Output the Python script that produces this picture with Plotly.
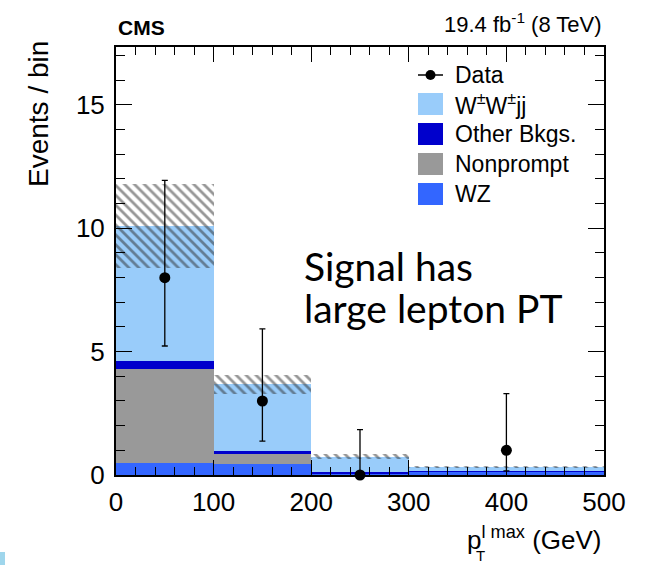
import numpy as np
import plotly.graph_objects as go

# Binning in leading-lepton pT (GeV)
bin_edges = [0, 100, 200, 300, 500]

# Stacked expectations per bin (events / bin)
wz = [0.47, 0.45, 0.08, 0.13]
nonprompt = [3.81, 0.42, 0.00, 0.00]
other_bkgs = [0.36, 0.10, 0.03, 0.03]
wwjj = [5.45, 2.70, 0.64, 0.17]
# Total systematic uncertainty on the stack (+/-)
stack_unc = [1.70, 0.40, 0.10, 0.05]

# Observed data with asymmetric Poisson errors
data = [8, 3, 0, 1]
data_err_lo = [2.77, 1.63, 0.00, 0.83]
data_err_hi = [3.94, 2.92, 1.84, 2.30]

x_ticks = [0, 100, 200, 300, 400, 500]
y_ticks = [0, 5, 10, 15]

COL_WW = "#99ccfa"
COL_OTHER = "#0000cc"
COL_NP = "#999999"
COL_WZ = "#3366ff"

edges = np.array(bin_edges, dtype=float)
centers = 0.5 * (edges[:-1] + edges[1:])
widths = edges[1:] - edges[:-1]

components = [
    ("WZ", wz, COL_WZ),
    ("Nonprompt", nonprompt, COL_NP),
    ("Other Bkgs.", other_bkgs, COL_OTHER),
    ("W\u00b1W\u00b1jj", wwjj, COL_WW),
]

fig = go.Figure()

base = np.zeros(len(centers))
for name, vals, col in components:
    vals = np.array(vals, dtype=float)
    fig.add_trace(go.Bar(
        x=centers, y=vals, base=base, width=widths, name=name,
        marker=dict(color=col, line=dict(width=0)), showlegend=False,
        hoverinfo="skip",
    ))
    base = base + vals

total = base
unc = np.array(stack_unc)
fig.add_trace(go.Bar(
    x=centers, y=2 * unc, base=total - unc, width=widths,
    marker=dict(
        color="rgba(0,0,0,0)", line=dict(width=0),
        pattern=dict(shape="\\", fgcolor="#2e2e2e", bgcolor="rgba(0,0,0,0)",
                     size=7, solidity=0.4, fillmode="overlay"),
    ),
    showlegend=False, hoverinfo="skip",
))

fig.add_trace(go.Scatter(
    x=centers[:len(data)], y=data, mode="markers", cliponaxis=False,
    marker=dict(color="black", size=11),
    error_y=dict(type="data", symmetric=False, array=data_err_hi,
                 arrayminus=data_err_lo, color="black", thickness=1.3, width=3),
    showlegend=False,
))

# Frame geometry in pixels
L, R, T, B = 116, 604, 47, 475
W, H = R - L, B - T


def px(xp):
    return (xp - L) / W


def py(yp):
    return (B - yp) / H


shapes = []
annotations = []

# Legend block
leg_x0, leg_x1, txt_x = 418, 443, 453
# Data entry
shapes.append(dict(type="line", xref="paper", yref="paper",
                   x0=px(leg_x0), x1=px(leg_x1), y0=py(75), y1=py(75),
                   line=dict(color="black", width=1.5)))
shapes.append(dict(type="circle", xref="paper", yref="paper",
                   x0=px(425.5), x1=px(435.5), y0=py(80), y1=py(70),
                   fillcolor="black", line=dict(color="black", width=0)))
annotations.append(dict(text="Data", x=px(txt_x), y=py(75), xref="paper", yref="paper",
                        xanchor="left", yanchor="middle", showarrow=False,
                        font=dict(size=23, color="black", family="Liberation Sans")))
legend_rows = [
    ("W<sup>\u00b1</sup>W<sup>\u00b1</sup>jj", COL_WW, 104),
    ("Other Bkgs.", COL_OTHER, 134),
    ("Nonprompt", COL_NP, 164),
    ("WZ", COL_WZ, 194),
]
for label, col, yc in legend_rows:
    shapes.append(dict(type="rect", xref="paper", yref="paper",
                       x0=px(leg_x0), x1=px(leg_x1), y0=py(yc + 11), y1=py(yc - 11),
                       fillcolor=col, line=dict(width=0)))
    annotations.append(dict(text=label, x=px(txt_x), y=py(yc), xref="paper", yref="paper",
                            xanchor="left", yanchor="middle", showarrow=False,
                            font=dict(size=23, color="black", family="Liberation Sans")))

# Header texts
annotations.append(dict(text="<b>CMS</b>", x=0, y=py(27), xref="paper", yref="paper",
                        xanchor="left", yanchor="middle", showarrow=False,
                        font=dict(size=21, color="black", family="Liberation Sans")))
annotations.append(dict(text="19.4 fb<sup>-1</sup> (8 TeV)", x=1, y=py(23), xref="paper",
                        yref="paper", xanchor="right", yanchor="middle", showarrow=False,
                        font=dict(size=22, color="black", family="Liberation Sans")))

# Axis titles
annotations.append(dict(text="Events / bin", x=px(38), y=py(39), xref="paper", yref="paper",
                        xanchor="center", yanchor="top", textangle=-90, showarrow=False,
                        font=dict(size=28, color="black", family="Liberation Sans")))
annotations.append(dict(text="p<sup>l max</sup> (GeV)", x=1, y=py(538), xref="paper",
                        yref="paper", xanchor="right", yanchor="middle", showarrow=False,
                        font=dict(size=26, color="black", family="Liberation Sans")))
annotations.append(dict(text="T", x=px(480), y=py(555), xref="paper", yref="paper",
                        xanchor="center", yanchor="middle", showarrow=False,
                        font=dict(size=15, color="black", family="Liberation Sans")))

# Slide comment, one annotation per line
annotations.append(dict(text="Signal has", x=px(302), y=py(266),
                        xref="paper", yref="paper", xanchor="left", yanchor="middle",
                        showarrow=False,
                        font=dict(size=39, color="black", family="Lato")))
annotations.append(dict(text="large lepton PT", x=px(302), y=py(308),
                        xref="paper", yref="paper", xanchor="left", yanchor="middle",
                        showarrow=False,
                        font=dict(size=39, color="black", family="Lato")))

# Slide decoration strip at the lower-left corner
shapes.append(dict(type="rect", xref="paper", yref="paper",
                   x0=px(0), x1=px(5), y0=py(565), y1=py(552),
                   fillcolor="#9fd6ec", line=dict(width=0)))

axis_common = dict(
    showline=True, linecolor="black", linewidth=2, mirror="ticks",
    ticks="inside", tickcolor="black", tickwidth=1,
    showgrid=False, zeroline=False,
    tickfont=dict(size=26, color="black", family="Liberation Sans"),
)

fig.update_layout(
    width=648, height=565,
    margin=dict(l=L, r=648 - R, t=T, b=565 - B),
    paper_bgcolor="white", plot_bgcolor="white",
    barmode="overlay", bargap=0,
    shapes=shapes, annotations=annotations,
    xaxis=dict(range=[0, 500], tickvals=x_ticks, ticklen=15, ticklabelstandoff=3,
               minor=dict(dtick=20, ticklen=8, ticks="inside", tickcolor="black", tickwidth=1),
               **axis_common),
    yaxis=dict(range=[0, 17.35], tickvals=y_ticks, ticklen=16, ticklabelstandoff=4,
               minor=dict(dtick=1, ticklen=9, ticks="inside", tickcolor="black", tickwidth=1),
               **axis_common),
)

fig.write_html("out.html")
